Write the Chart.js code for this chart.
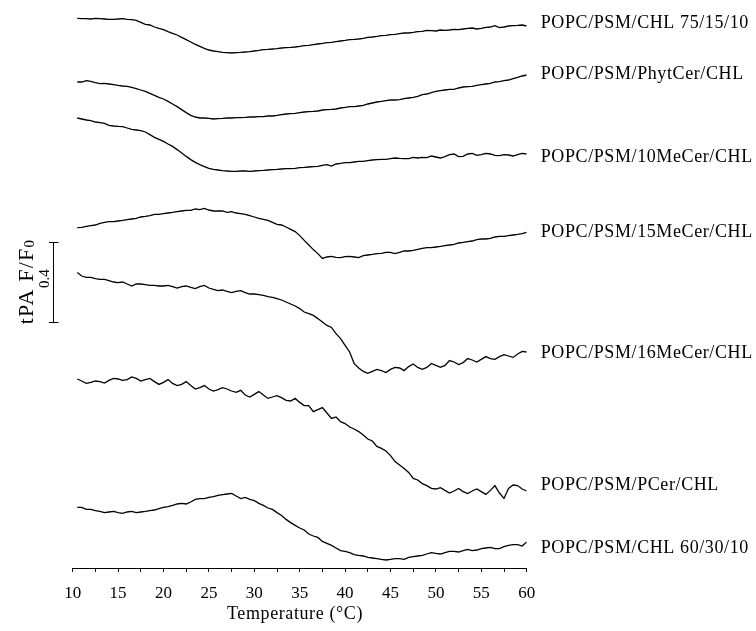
<!DOCTYPE html>
<html>
<head>
<meta charset="utf-8">
<script src="https://cdn.jsdelivr.net/npm/chart.js@4.4.1/dist/chart.umd.min.js"></script>
<style>
  html, body { margin: 0; padding: 0; background: #fff; }
  #wrap { width: 756px; height: 631px; }
</style>
</head>
<body>
<div id="wrap"><canvas id="chart" width="756" height="631"></canvas></div>
<script>
// temperature (°C) of each reading, every 0.5 degree
const temps = [
  10.5, 11, 11.5, 12, 12.5, 13, 13.5, 14, 14.5, 15,
  15.5, 16, 16.5, 17, 17.5, 18, 18.5, 19, 19.5, 20,
  20.5, 21, 21.5, 22, 22.5, 23, 23.5, 24, 24.5, 25,
  25.5, 26, 26.5, 27, 27.5, 28, 28.5, 29, 29.5, 30,
  30.5, 31, 31.5, 32, 32.5, 33, 33.5, 34, 34.5, 35,
  35.5, 36, 36.5, 37, 37.5, 38, 38.5, 39, 39.5, 40,
  40.5, 41, 41.5, 42, 42.5, 43, 43.5, 44, 44.5, 45,
  45.5, 46, 46.5, 47, 47.5, 48, 48.5, 49, 49.5, 50,
  50.5, 51, 51.5, 52, 52.5, 53, 53.5, 54, 54.5, 55,
  55.5, 56, 56.5, 57, 57.5, 58, 58.5, 59, 59.5, 60];

// tPA F/F0, traces shifted vertically so they stack
const chl751510 = [
  2.748, 2.747, 2.747, 2.745, 2.748, 2.747, 2.745, 2.743, 2.743, 2.745,
  2.747, 2.743, 2.742, 2.738, 2.728, 2.718, 2.715, 2.705, 2.698, 2.692,
  2.682, 2.673, 2.665, 2.653, 2.642, 2.630, 2.618, 2.608, 2.598, 2.590,
  2.585, 2.582, 2.578, 2.577, 2.575, 2.577, 2.578, 2.580, 2.582, 2.585,
  2.588, 2.592, 2.593, 2.595, 2.597, 2.600, 2.602, 2.603, 2.605, 2.608,
  2.612, 2.613, 2.617, 2.620, 2.623, 2.627, 2.628, 2.632, 2.635, 2.638,
  2.642, 2.643, 2.645, 2.648, 2.653, 2.655, 2.658, 2.662, 2.663, 2.667,
  2.668, 2.672, 2.675, 2.675, 2.678, 2.682, 2.683, 2.688, 2.687, 2.685,
  2.690, 2.688, 2.690, 2.693, 2.692, 2.695, 2.698, 2.700, 2.695, 2.698,
  2.703, 2.705, 2.712, 2.702, 2.705, 2.710, 2.712, 2.713, 2.715, 2.710];
const phytCer = [
  2.430, 2.430, 2.437, 2.433, 2.427, 2.422, 2.423, 2.420, 2.417, 2.413,
  2.410, 2.408, 2.403, 2.397, 2.390, 2.383, 2.373, 2.363, 2.353, 2.345,
  2.333, 2.320, 2.307, 2.292, 2.277, 2.263, 2.255, 2.250, 2.250, 2.248,
  2.245, 2.247, 2.248, 2.250, 2.250, 2.252, 2.252, 2.253, 2.255, 2.255,
  2.257, 2.257, 2.260, 2.260, 2.263, 2.267, 2.270, 2.272, 2.273, 2.277,
  2.280, 2.282, 2.283, 2.285, 2.290, 2.292, 2.293, 2.295, 2.300, 2.303,
  2.307, 2.307, 2.310, 2.313, 2.320, 2.325, 2.330, 2.333, 2.337, 2.340,
  2.340, 2.342, 2.347, 2.350, 2.353, 2.358, 2.367, 2.370, 2.377, 2.383,
  2.387, 2.390, 2.393, 2.393, 2.400, 2.405, 2.407, 2.408, 2.413, 2.417,
  2.420, 2.423, 2.430, 2.432, 2.437, 2.440, 2.447, 2.453, 2.460, 2.465];
const meCer10 = [
  2.250, 2.245, 2.240, 2.237, 2.230, 2.227, 2.223, 2.213, 2.210, 2.208,
  2.207, 2.200, 2.193, 2.190, 2.187, 2.180, 2.167, 2.153, 2.143, 2.133,
  2.120, 2.108, 2.092, 2.075, 2.058, 2.042, 2.028, 2.017, 2.007, 1.998,
  1.993, 1.990, 1.987, 1.985, 1.983, 1.983, 1.985, 1.985, 1.983, 1.985,
  1.987, 1.988, 1.990, 1.992, 1.993, 1.995, 1.997, 1.997, 1.998, 2.002,
  2.003, 2.005, 2.007, 2.008, 2.013, 2.017, 2.010, 2.020, 2.023, 2.027,
  2.027, 2.030, 2.033, 2.033, 2.037, 2.040, 2.042, 2.043, 2.043, 2.047,
  2.050, 2.048, 2.047, 2.047, 2.053, 2.050, 2.053, 2.052, 2.060, 2.055,
  2.050, 2.057, 2.067, 2.070, 2.057, 2.058, 2.070, 2.073, 2.063, 2.067,
  2.073, 2.070, 2.063, 2.062, 2.067, 2.065, 2.060, 2.067, 2.073, 2.070];
const meCer15 = [
  1.702, 1.703, 1.708, 1.712, 1.715, 1.723, 1.728, 1.732, 1.732, 1.735,
  1.738, 1.742, 1.745, 1.748, 1.755, 1.758, 1.762, 1.768, 1.768, 1.772,
  1.775, 1.778, 1.782, 1.785, 1.788, 1.788, 1.795, 1.792, 1.798, 1.790,
  1.785, 1.785, 1.785, 1.778, 1.782, 1.775, 1.772, 1.768, 1.762, 1.755,
  1.748, 1.743, 1.738, 1.728, 1.718, 1.715, 1.705, 1.693, 1.682, 1.662,
  1.638, 1.615, 1.592, 1.572, 1.548, 1.555, 1.558, 1.553, 1.552, 1.557,
  1.558, 1.555, 1.552, 1.562, 1.565, 1.568, 1.572, 1.573, 1.578, 1.578,
  1.572, 1.578, 1.585, 1.585, 1.588, 1.593, 1.598, 1.602, 1.602, 1.605,
  1.608, 1.612, 1.615, 1.618, 1.625, 1.628, 1.632, 1.635, 1.642, 1.645,
  1.645, 1.648, 1.655, 1.658, 1.658, 1.662, 1.665, 1.668, 1.672, 1.678];
const meCer16 = [
  1.477, 1.460, 1.453, 1.453, 1.447, 1.443, 1.443, 1.437, 1.430, 1.427,
  1.430, 1.420, 1.410, 1.420, 1.420, 1.417, 1.413, 1.413, 1.410, 1.410,
  1.413, 1.407, 1.400, 1.407, 1.410, 1.403, 1.397, 1.407, 1.413, 1.400,
  1.393, 1.387, 1.390, 1.383, 1.377, 1.383, 1.387, 1.377, 1.370, 1.370,
  1.367, 1.363, 1.357, 1.353, 1.347, 1.340, 1.330, 1.320, 1.310, 1.297,
  1.280, 1.272, 1.263, 1.247, 1.230, 1.213, 1.203, 1.172, 1.147, 1.113,
  1.080, 1.022, 1.000, 0.983, 0.973, 0.983, 0.993, 0.987, 0.977, 0.993,
  1.003, 1.000, 0.987, 1.007, 1.020, 1.003, 0.993, 1.003, 1.023, 1.013,
  1.003, 1.013, 1.037, 1.030, 1.017, 1.027, 1.047, 1.040, 1.030, 1.043,
  1.057, 1.047, 1.043, 1.057, 1.067, 1.060, 1.053, 1.070, 1.083, 1.080];
const pCer = [
  0.945, 0.935, 0.923, 0.928, 0.935, 0.932, 0.925, 0.938, 0.948, 0.945,
  0.938, 0.942, 0.955, 0.948, 0.935, 0.942, 0.948, 0.932, 0.918, 0.928,
  0.942, 0.923, 0.912, 0.918, 0.932, 0.912, 0.895, 0.902, 0.912, 0.895,
  0.885, 0.892, 0.902, 0.895, 0.885, 0.878, 0.888, 0.865, 0.855, 0.868,
  0.882, 0.865, 0.848, 0.855, 0.862, 0.852, 0.838, 0.835, 0.848, 0.828,
  0.812, 0.812, 0.782, 0.792, 0.802, 0.775, 0.748, 0.755, 0.732, 0.722,
  0.705, 0.695, 0.682, 0.665, 0.645, 0.635, 0.608, 0.598, 0.585, 0.562,
  0.532, 0.515, 0.498, 0.478, 0.448, 0.440, 0.422, 0.412, 0.398, 0.395,
  0.402, 0.388, 0.375, 0.385, 0.398, 0.382, 0.372, 0.385, 0.395, 0.382,
  0.368, 0.388, 0.412, 0.375, 0.348, 0.398, 0.415, 0.412, 0.395, 0.385];
const chl603010 = [
  0.303, 0.303, 0.293, 0.293, 0.287, 0.283, 0.277, 0.280, 0.283, 0.277,
  0.273, 0.280, 0.283, 0.277, 0.280, 0.283, 0.287, 0.290, 0.297, 0.303,
  0.307, 0.313, 0.320, 0.323, 0.320, 0.330, 0.343, 0.347, 0.347, 0.353,
  0.357, 0.363, 0.367, 0.370, 0.373, 0.360, 0.347, 0.353, 0.343, 0.337,
  0.323, 0.313, 0.300, 0.293, 0.277, 0.263, 0.243, 0.227, 0.213, 0.200,
  0.190, 0.170, 0.160, 0.153, 0.133, 0.123, 0.113, 0.100, 0.087, 0.083,
  0.077, 0.067, 0.063, 0.060, 0.053, 0.050, 0.047, 0.043, 0.040, 0.043,
  0.047, 0.047, 0.043, 0.053, 0.057, 0.060, 0.063, 0.070, 0.077, 0.073,
  0.070, 0.077, 0.083, 0.083, 0.080, 0.087, 0.093, 0.087, 0.090, 0.097,
  0.100, 0.103, 0.097, 0.097, 0.107, 0.113, 0.117, 0.117, 0.110, 0.130];

const traces = [chl751510, phytCer, meCer10, meCer15, meCer16, pCer, chl603010];
const traceNames = ['POPC/PSM/CHL 75/15/10', 'POPC/PSM/PhytCer/CHL', 'POPC/PSM/10MeCer/CHL',
  'POPC/PSM/15MeCer/CHL', 'POPC/PSM/16MeCer/CHL', 'POPC/PSM/PCer/CHL', 'POPC/PSM/CHL 60/30/10'];

// vertical scale bar: 0.4 units of F/F0
const barBottom = 1.23;
const barLength = 0.4;

const serif = '"Liberation Serif", "Times New Roman", serif';

function spaced(ctx, px) {
  if ('letterSpacing' in ctx) ctx.letterSpacing = px + 'px';
}

const decorations = {
  id: 'decorations',
  afterDraw(chart) {
    const ctx = chart.ctx;
    const y = chart.scales.y;
    const area = chart.chartArea;
    ctx.save();
    ctx.fillStyle = '#000';
    ctx.strokeStyle = '#000';

    // trace names at the right end of each curve
    const nudge = [-3, -1, 3, 0, 1, -6, 6];
    ctx.font = '18px ' + serif;
    spaced(ctx, 0.6);
    ctx.textAlign = 'left';
    ctx.textBaseline = 'middle';
    traces.forEach((t, i) => {
      const py = y.getPixelForValue(t[t.length - 1]) + nudge[i];
      ctx.fillText(traceNames[i], area.right + 14, py);
    });

    // scale bar
    const bx = 53.5;
    const b0 = Math.round(y.getPixelForValue(barBottom)) + 0.5;
    const b1 = Math.round(y.getPixelForValue(barBottom + barLength)) + 0.5;
    ctx.lineWidth = 1;
    ctx.beginPath();
    ctx.moveTo(bx, b0); ctx.lineTo(bx, b1);
    ctx.moveTo(bx - 4.5, b0); ctx.lineTo(bx + 5, b0);
    ctx.moveTo(bx - 4.5, b1); ctx.lineTo(bx + 5, b1);
    ctx.stroke();

    const mid = (b0 + b1) / 2;
    ctx.save();
    spaced(ctx, 0);
    ctx.translate(45, mid - 4);
    ctx.rotate(-Math.PI / 2);
    ctx.font = '15px ' + serif;
    ctx.textAlign = 'center';
    ctx.textBaseline = 'middle';
    ctx.fillText('0.4', 0, 0);
    ctx.restore();

    // y title with subscript
    ctx.save();
    ctx.translate(33, mid - 1);
    ctx.rotate(-Math.PI / 2);
    ctx.font = '22px ' + serif;
    spaced(ctx, 1.2);
    const main = 'tPA F/F';
    const wMain = ctx.measureText(main).width;
    ctx.font = '15px ' + serif;
    const wSub = ctx.measureText('0').width;
    const x0 = -(wMain + wSub) / 2;
    ctx.textAlign = 'left';
    ctx.textBaseline = 'alphabetic';
    ctx.font = '22px ' + serif;
    ctx.fillText(main, x0, 0);
    ctx.font = '15px ' + serif;
    ctx.fillText('0', x0 + wMain, 1);
    ctx.restore();

    // x title
    ctx.font = '18px ' + serif;
    spaced(ctx, 0.6);
    ctx.textAlign = 'center';
    ctx.textBaseline = 'alphabetic';
    ctx.fillText('Temperature (°C)', 295, 619);
    ctx.restore();
  }
};

new Chart(document.getElementById('chart'), {
  type: 'line',
  data: {
    datasets: traces.map((t, i) => ({
      label: traceNames[i],
      data: t.map((v, j) => ({ x: temps[j], y: v })),
      borderColor: '#000',
      borderWidth: 1.3,
      pointRadius: 0,
      tension: 0,
      fill: false
    }))
  },
  options: {
    responsive: false,
    animation: false,
    devicePixelRatio: 1,
    layout: { padding: { left: 72.7, right: 229.3, top: 0, bottom: 0 } },
    plugins: { legend: { display: false }, tooltip: { enabled: false } },
    scales: {
      x: {
        type: 'linear',
        min: 10,
        max: 60,
        afterFit(scale) { scale.height = 63; },
        border: { display: true, color: '#000', width: 1 },
        grid: { drawOnChartArea: false, drawTicks: true, tickLength: 4, color: '#000' },
        ticks: {
          stepSize: 2.5,
          autoSkip: false,
          maxRotation: 0,
          padding: 11,
          color: '#000',
          font: { family: serif, size: 17 },
          callback: v => (v % 5 === 0 ? String(v) : '')
        }
      },
      y: {
        type: 'linear',
        min: 0,
        max: 2.84,
        display: false
      }
    }
  },
  plugins: [decorations]
});
</script>
</body>
</html>
